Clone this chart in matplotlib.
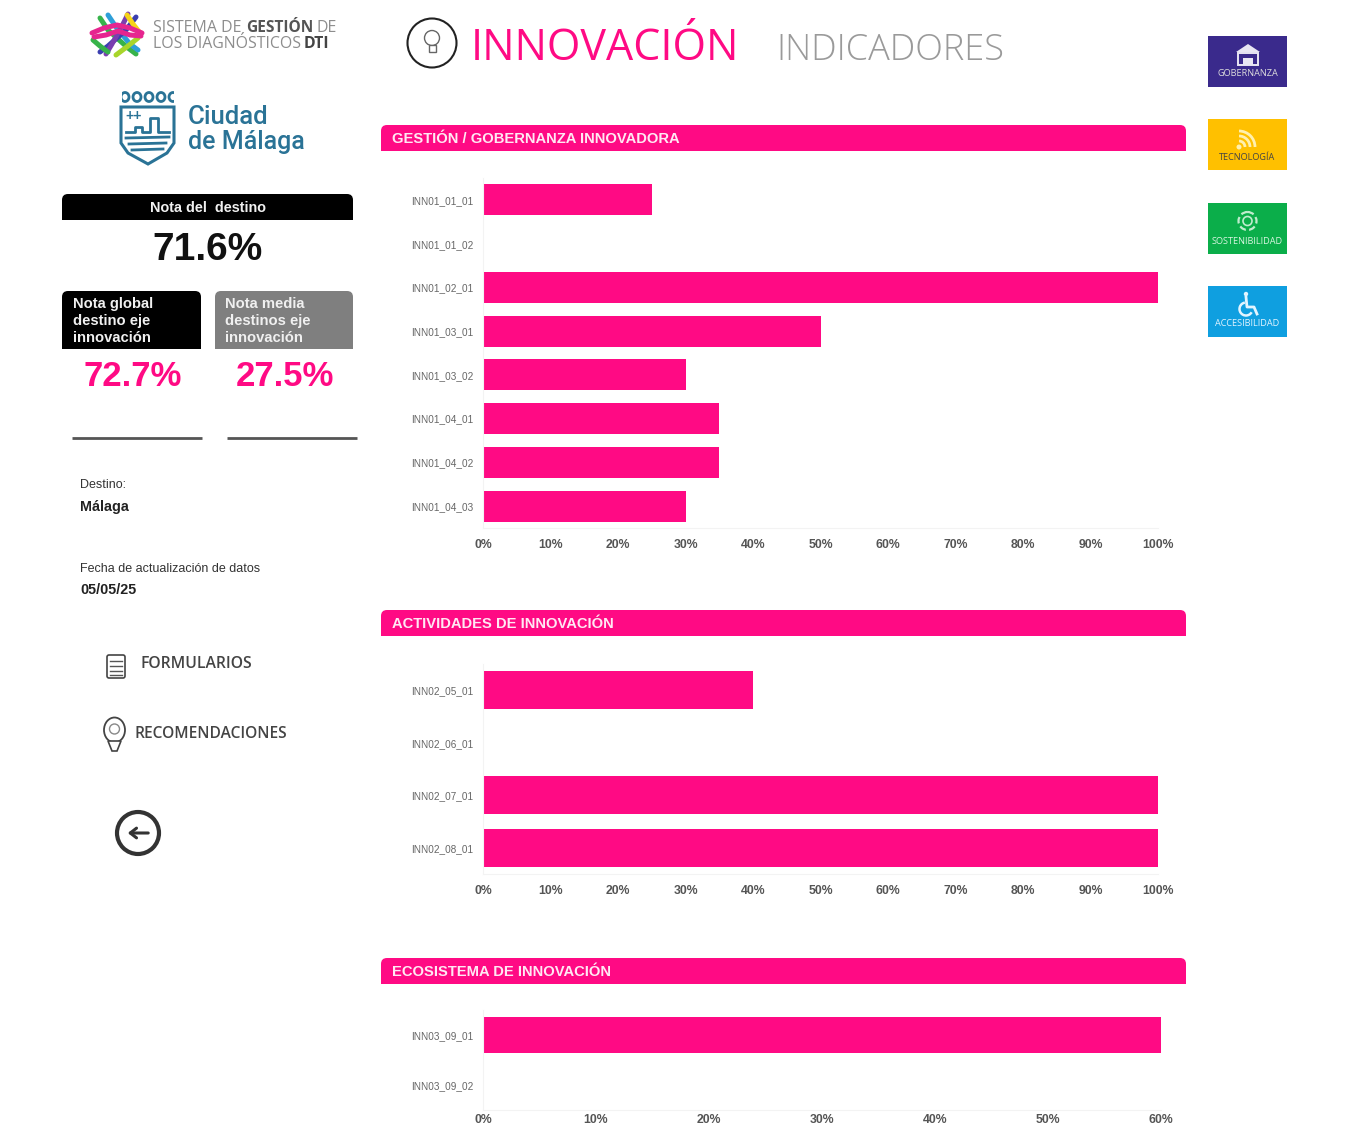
import matplotlib
matplotlib.use("Agg")
import matplotlib.pyplot as plt
from matplotlib.patches import FancyBboxPatch, Rectangle, Circle, Polygon, Arc, Ellipse

plt.rcParams['font.family'] = ['Liberation Sans', 'DejaVu Sans']

PINK = '#FF0A84'
W, H = 1354, 1126

labels_gob = ['INN01_01_01','INN01_01_02','INN01_02_01','INN01_03_01','INN01_03_02','INN01_04_01','INN01_04_02','INN01_04_03']
values_gob = [25, 0, 100, 50, 30, 35, 35, 30]
labels_act = ['INN02_05_01','INN02_06_01','INN02_07_01','INN02_08_01']
values_act = [40, 0, 100, 100]
labels_eco = ['INN03_09_01','INN03_09_02']
values_eco = [60, 0]
ticks_100 = [0,10,20,30,40,50,60,70,80,90,100]
ticks_60 = [0,10,20,30,40,50,60]

fig = plt.figure(figsize=(W/100, H/100), dpi=100, facecolor='white')
bg = fig.add_axes([0,0,1,1])
bg.set_xlim(0,W); bg.set_ylim(H,0); bg.axis('off')


def chart(labels, values, ticks, x0, x1, top, bottom, height, xpad=8):
    ax = fig.add_axes([x0/W, 1-bottom/H, (x1-x0)/W, (bottom-top)/H])
    pos = list(range(len(labels)))
    ax.barh(pos, values, height=height, color=PINK)
    ax.set_yticks(pos); ax.set_yticklabels(labels)
    ax.set_ylim(len(labels)-0.5, -0.5)
    ax.set_xlim(ticks[0], ticks[-1])
    ax.set_xticks(ticks); ax.set_xticklabels([f'{t}%' for t in ticks])
    ax.tick_params(axis='y', length=0, pad=7, labelsize=7.2, labelcolor='#666666')
    ax.tick_params(axis='x', length=0, pad=xpad, labelsize=8.8, labelcolor='#555555')
    for s in ['top','right']:
        ax.spines[s].set_visible(False)
    for s in ['left','bottom']:
        ax.spines[s].set_color('#f3f3f3')
    for t in ax.get_xticklabels():
        t.set_fontweight('bold')
    return ax


chart(labels_gob, values_gob, ticks_100, 483, 1158, 178, 528, 0.71)
chart(labels_act, values_act, ticks_100, 483, 1158, 664, 874, 0.72)
chart(labels_eco, values_eco, ticks_60, 483, 1161, 1010, 1110, 0.72, xpad=3)


def top_round(x, y, w, h, color, r=6):
    bg.add_patch(FancyBboxPatch((x+r, y+r), w-2*r, h, boxstyle=f'round,pad={r},rounding_size={r}',
                                fc=color, ec='none'))
    bg.add_patch(Rectangle((x-1, y+h), w+2, 2*r+2, fc='white', ec='none'))


# Section bands
for y, txt in [(125,'GESTIÓN / GOBERNANZA INNOVADORA'),(610,'ACTIVIDADES DE INNOVACIÓN'),(958,'ECOSISTEMA DE INNOVACIÓN')]:
    top_round(381, y, 805, 26, PINK)
    bg.text(392, y+14, txt, color='#ffe8f3', fontsize=10.6, fontweight='bold', va='center', ha='left')

# Header
bg.add_patch(Circle((432,43), 24.5, fc='white', ec='#222222', lw=1.5))
bg.add_patch(Circle((432,38), 7.5, fc='white', ec='#666666', lw=1))
bg.add_patch(Rectangle((428.5,45), 7, 7, fc='white', ec='#666666', lw=1))
bg.text(471, 49, 'INNOVACIÓN', color=PINK, fontsize=31, family='Open Sans', va='center', ha='left')
bg.text(776, 50, 'INDICADORES', color='#9a9a9a', fontsize=26, family='Open Sans', fontweight='light', va='center', ha='left')

# DTI logo
for xs, ys, c in [
    ([100,108,128,136], [18,30,48,54], '#37b34a'),
    ([108,116,130,138], [15,27,44,50], '#2e9fd8'),
    ([136,126,108,100], [17,30,46,52], '#3b3fb0'),
    ([128,122,112,106], [14,26,44,54], '#7a3fb0'),
    ([127,133,140], [15,24,33], '#f7d417'),
    ([138,128,116], [38,46,55], '#a8d52b'),
    ([93,100,108], [40,46,52], '#37b34a'),
    ([92,104,117,130,142], [33,28,25,28,33], '#e6258f'),
    ([94,106,118,130,141], [37,35,31,35,36], '#e6258f'),
]:
    bg.plot(xs, ys, color=c, lw=3.6, solid_capstyle='round')
bg.text(153, 27.5, 'SISTEMA DE', color='#8d8d8d', fontsize=11.5, family='Open Sans', va='center')
bg.text(246, 27.5, 'GESTIÓN', color='#555555', fontsize=11.2, family='Open Sans', fontweight='bold', va='center')
bg.text(317, 27.5, 'DE', color='#8d8d8d', fontsize=11.5, family='Open Sans', va='center')
bg.text(153, 44.5, 'LOS DIAGNÓSTICOS', color='#8d8d8d', fontsize=11.4, family='Open Sans', va='center')
bg.text(304, 44.5, 'DTI', color='#444444', fontsize=11.4, family='Open Sans', fontweight='bold', va='center')

# Malaga logo
BLUE = '#2a7396'
for cx in [125,137,149,161,173]:
    bg.add_patch(Ellipse((cx,97), 8, 9, fc='white', ec=BLUE, lw=2))
bg.add_patch(Rectangle((117,90), 5, 14, fc='white', ec='none'))
bg.add_patch(Rectangle((174,90), 5, 14, fc='white', ec='none'))
bg.add_patch(Polygon([(121,107),(174,107),(174,143),(167,153),(148,164),(128,153),(121,143)], fc='white', ec=BLUE, lw=2.2))
bg.plot([126,135,135,142,142,150,150,158,158,169],[132,132,127,127,132,132,118,118,132,132], color=BLUE, lw=2)
for y0, y1 in [(138,137),(144,143),(150,149)]:
    bg.plot([126+(y0-138)//2,169-(y0-138)//2],[y0,y1], color=BLUE, lw=2)
bg.text(134,116,'++', color=BLUE, fontsize=10, fontweight='bold', ha='center', va='center')
bg.text(188, 116.5, 'Ciudad', color=BLUE, fontsize=18.5, family='Roboto', fontweight='medium', va='center')
bg.text(188, 142.5, 'de Málaga', color=BLUE, fontsize=18, family='Roboto', fontweight='medium', va='center')

# Score boxes
top_round(62, 194, 291, 26, '#000000')
bg.text(208, 208, 'Nota del  destino', color='#f0f0f0', fontsize=10.4, fontweight='bold', ha='center', va='center')
bg.text(208, 250, '71.6%', color='#111111', fontsize=28, fontweight='bold', ha='center', va='center')

top_round(62, 291, 139, 58, '#000000')
top_round(215, 291, 138, 58, '#7f7f7f')
for y, a, b in [(304,'Nota global','Nota media'),(321.5,'destino eje','destinos eje'),(338.5,'innovación','innovación')]:
    bg.text(73, y, a, color='#f0f0f0', fontsize=10.6, fontweight='bold', va='center')
    bg.text(225, y, b, color='#f0f0f0', fontsize=10.6, fontweight='bold', va='center')
bg.text(133, 377, '72.7%', color=PINK, fontsize=25, fontweight='bold', ha='center', va='center')
bg.text(285, 377, '27.5%', color=PINK, fontsize=25, fontweight='bold', ha='center', va='center')
bg.plot([72,202],[437.5,437.5], color='#555555', lw=2, solid_capstyle='butt')
bg.plot([227,357],[437.5,437.5], color='#555555', lw=2, solid_capstyle='butt')

# Info
bg.text(80, 485.5, 'Destino:', color='#333333', fontsize=9, va='center')
bg.text(80, 507.5, 'Málaga', color='#222222', fontsize=10.4, fontweight='bold', va='center')
bg.text(80, 569, 'Fecha de actualización de datos', color='#333333', fontsize=9, va='center')
bg.text(80, 590.5, '05/05/25', color='#222222', fontsize=10.4, fontweight='bold', va='center')

# Links
bg.add_patch(FancyBboxPatch((107,655), 18, 23, boxstyle='round,pad=0,rounding_size=2', fc='white', ec='#444444', lw=1.2))
for y in [661,666,671,675]:
    bg.plot([110,122],[y,y], color='#555555', lw=1)
bg.text(141, 664.5, 'FORMULARIOS', color='#444444', fontsize=11.3, family='Open Sans', fontweight='semibold', va='center')
bg.add_patch(Ellipse((114.5,730), 21, 25, fc='white', ec='#444444', lw=1.3))
bg.add_patch(Circle((114.5,729), 5, fc='white', ec='#888888', lw=1))
bg.add_patch(Polygon([(108,741),(121,741),(117,751),(112,751)], fc='white', ec='#444444', lw=1.2))
bg.text(134, 734, 'RECOMENDACIONES', color='#444444', fontsize=11.2, family='Open Sans', fontweight='semibold', va='center')

# Back button
bg.add_patch(Circle((138,833), 21, fc='white', ec='#333333', lw=3))
bg.annotate('', xy=(125,833), xytext=(151,833), arrowprops=dict(arrowstyle='->,head_width=0.35,head_length=0.45', color='#333333', lw=2.2))

# Side buttons
for y, c, tc, txt in [(36,'#3A2A8C','#dddddd','GOBERNANZA'),(119,'#FFC000','#444444','TECNOLOGÍA'),
                      (203,'#0BAE4A','#d8f5e0','SOSTENIBILIDAD'),(286,'#0F9FE0','#e2f4ff','ACCESIBILIDAD')]:
    bg.add_patch(Rectangle((1208,y), 79, 51, fc=c, ec='none'))
    bg.text(1247.5, y+38, txt, color=tc, fontsize=6.6, family='Open Sans', ha='center', va='center')

# Side icons
ic = '#e8e6f3'
bg.add_patch(Polygon([(1236,52),(1248,44),(1260,52)], fc=ic, ec='none'))
bg.add_patch(Rectangle((1238,53), 20, 12, fc='none', ec=ic, lw=1.4))
bg.add_patch(Rectangle((1243,58), 10, 7, fc=ic, ec='none'))
for r in [6,11,16]:
    bg.add_patch(Arc((1239,147), 2*r, 2*r, theta1=270, theta2=360, color='#fff0b0', lw=2))
bg.add_patch(Circle((1239,147), 2.5, fc='#fff0b0', ec='none'))
bg.add_patch(Circle((1247.5,221), 9, fc='none', ec='#bfeccd', lw=1.6, ls=(0,(3,1.5))))
bg.add_patch(Circle((1247.5,221), 4.5, fc='none', ec='#bfeccd', lw=1.2))
wc = '#e2f4ff'
bg.add_patch(Circle((1246,294), 2.2, fc=wc, ec='none'))
bg.plot([1246,1247,1254,1257],[297,307,307,314], color=wc, lw=2)
bg.add_patch(Arc((1246,309), 13, 13, theta1=30, theta2=260, color=wc, lw=1.8))

fig.savefig('out.png', dpi=100, facecolor='white')
